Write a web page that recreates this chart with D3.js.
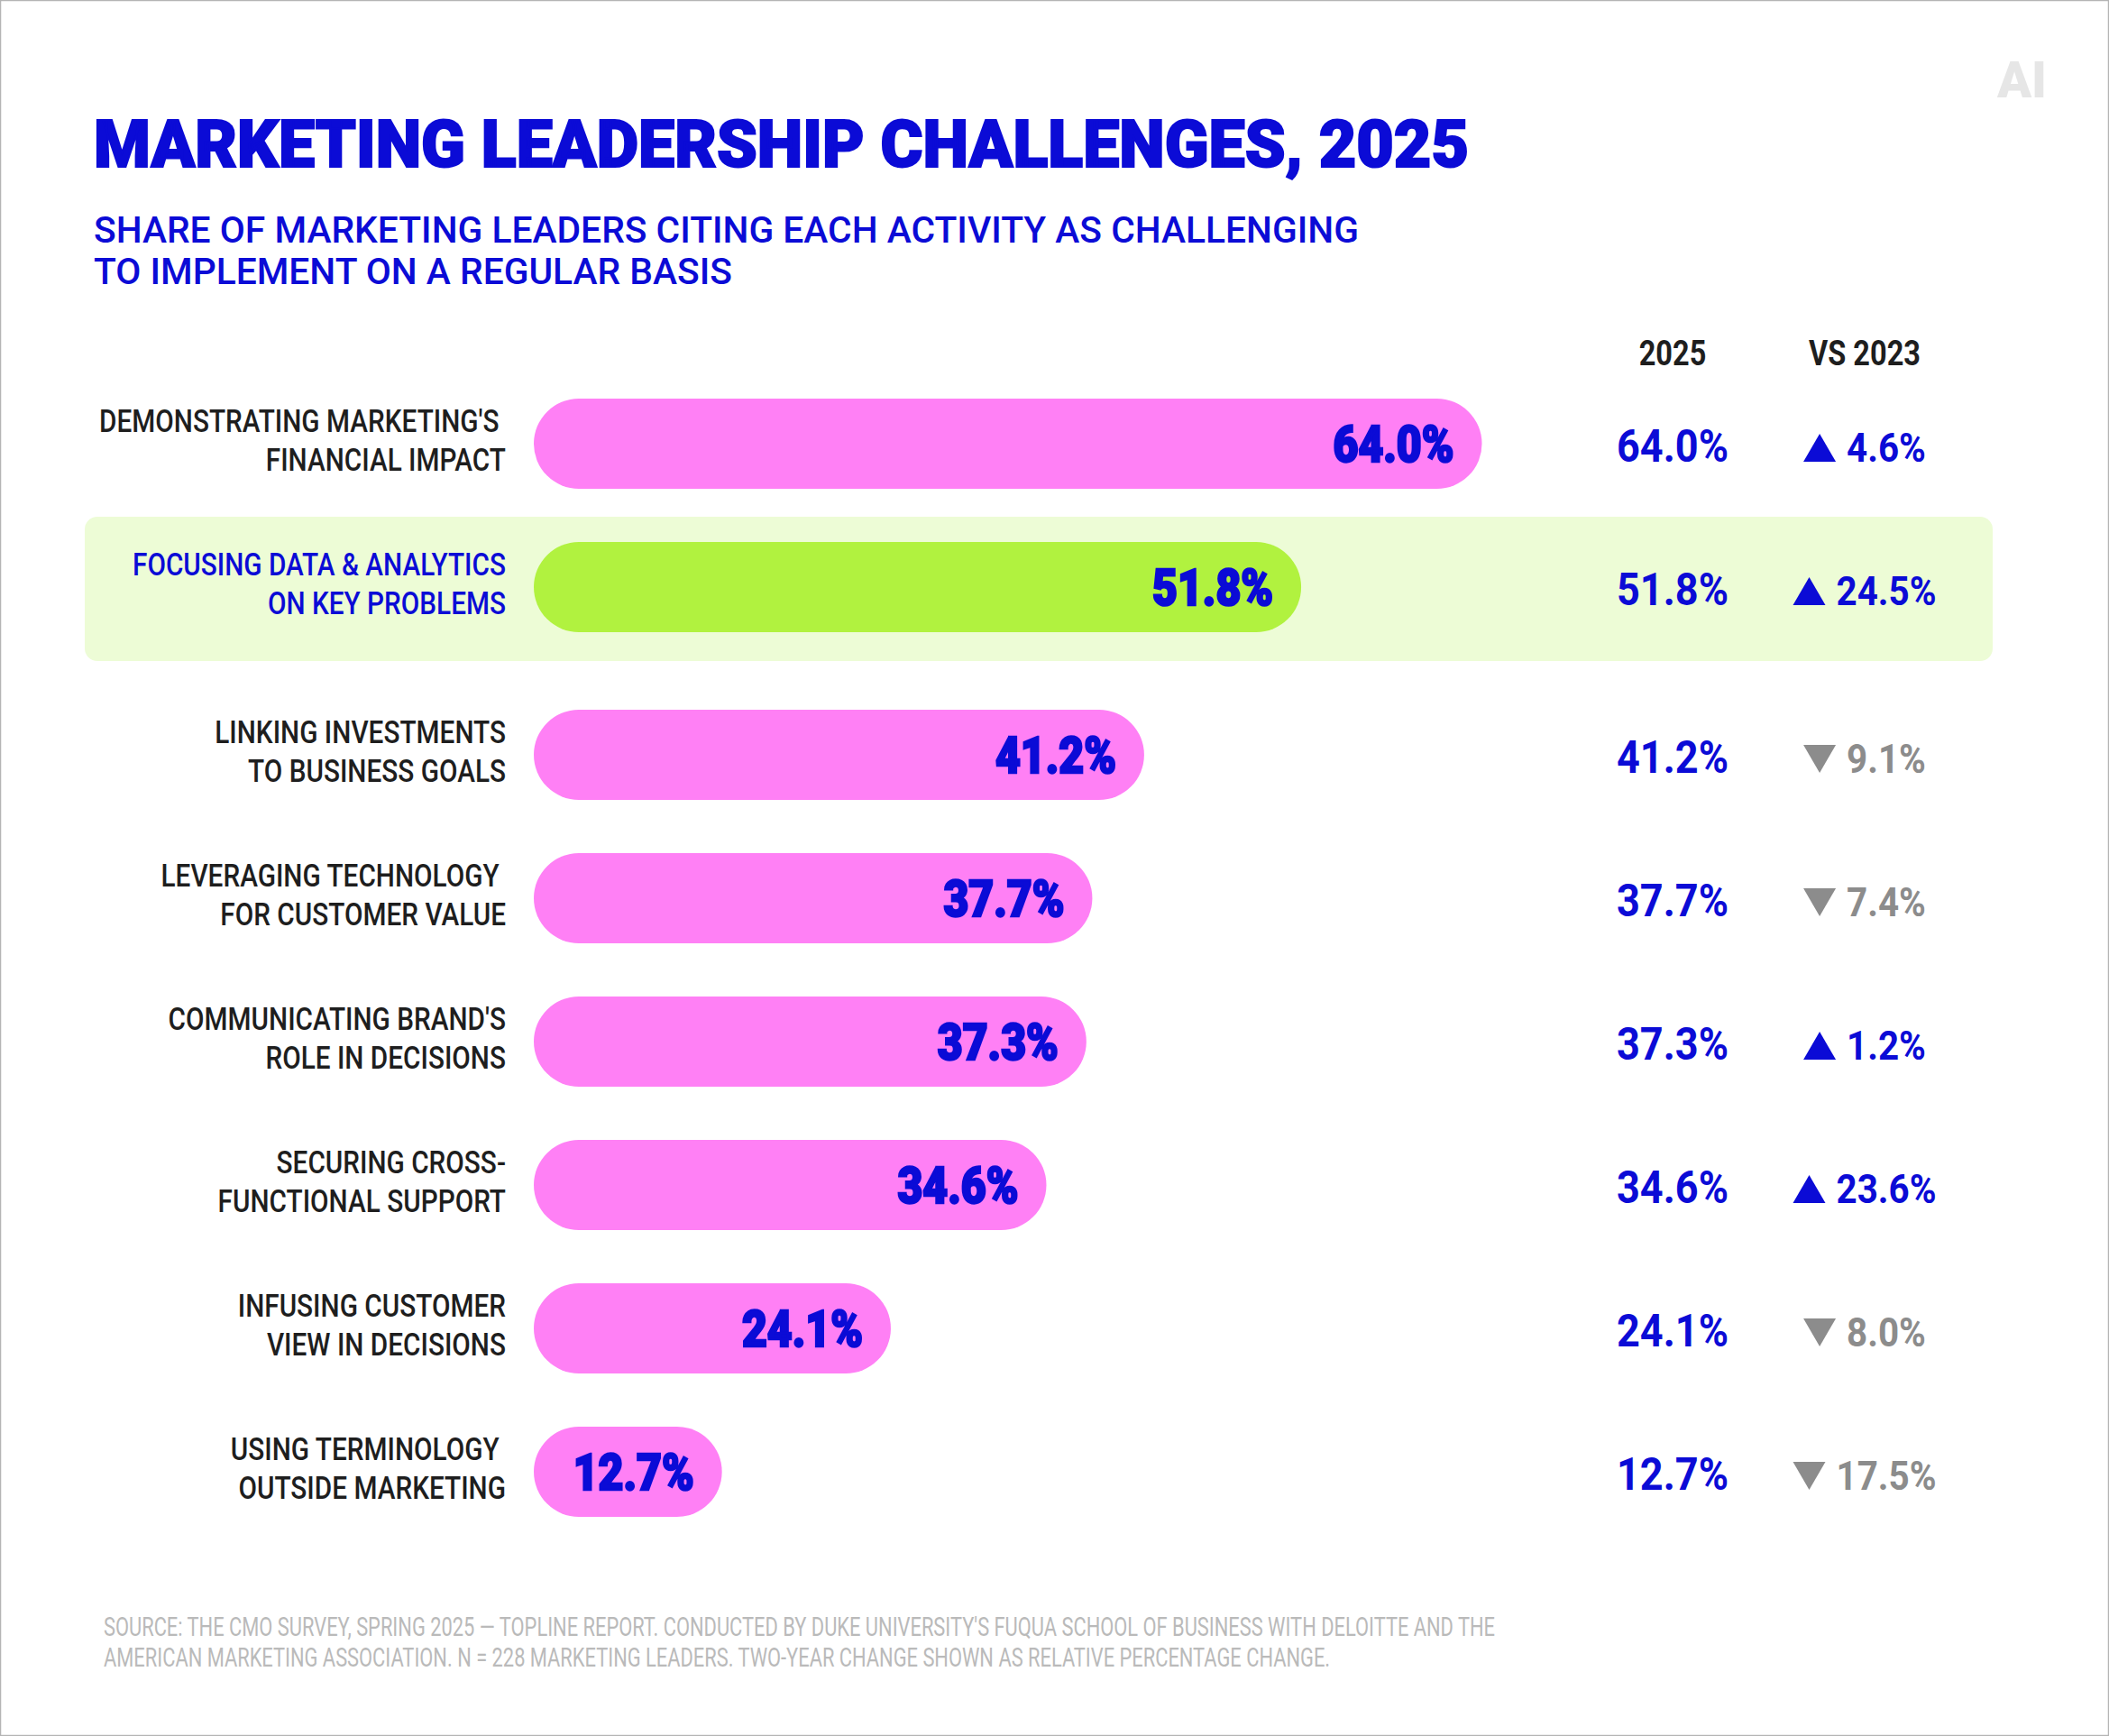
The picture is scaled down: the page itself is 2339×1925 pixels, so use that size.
<!DOCTYPE html>
<html>
<head>
<meta charset="utf-8">
<script src="https://cdn.jsdelivr.net/npm/d3@7"></script>
<style>
  html, body { margin: 0; padding: 0; background: #fff; }
  svg text { white-space: pre; }
</style>
</head>
<body>
<div class="chart"></div>
<script>
// data
var labelsLine1 = ["DEMONSTRATING MARKETING'S ", "FOCUSING DATA & ANALYTICS", "LINKING INVESTMENTS", "LEVERAGING TECHNOLOGY ",
                   "COMMUNICATING BRAND'S", "SECURING CROSS-", "INFUSING CUSTOMER", "USING TERMINOLOGY "];
var labelsLine2 = ["FINANCIAL IMPACT", "ON KEY PROBLEMS", "TO BUSINESS GOALS", "FOR CUSTOMER VALUE",
                   "ROLE IN DECISIONS", "FUNCTIONAL SUPPORT", "VIEW IN DECISIONS", "OUTSIDE MARKETING"];
var share2025 = [64.0, 51.8, 41.2, 37.7, 37.3, 34.6, 24.1, 12.7];
var changeVs2023 = [4.6, 24.5, -9.1, -7.4, 1.2, 23.6, -8.0, -17.5];
var highlightRow = 1;
var columnHeads = ["2025", "VS 2023"];
var title = "MARKETING LEADERSHIP CHALLENGES, 2025";
var subtitle = ["SHARE OF MARKETING LEADERS CITING EACH ACTIVITY AS CHALLENGING", "TO IMPLEMENT ON A REGULAR BASIS"];
var source = ["SOURCE: THE CMO SURVEY, SPRING 2025 \u2014 TOPLINE REPORT. CONDUCTED BY DUKE UNIVERSITY'S FUQUA SCHOOL OF BUSINESS WITH DELOITTE AND THE",
              "AMERICAN MARKETING ASSOCIATION. N = 228 MARKETING LEADERS. TWO-YEAR CHANGE SHOWN AS RELATIVE PERCENTAGE CHANGE."];

var w = 2339, h = 1925;
var blue = "#0b0bd6", pink = "#ff80f5", green = "#b1f23f", hiBg = "#edfcd6", grey = "#8c8c8c";
var font = "Roboto, 'Noto Sans', sans-serif";

var svg = d3.select(".chart").append("svg")
  .attr("width", w).attr("height", h);

svg.append("rect").attr("x", 0.5).attr("y", 0.5).attr("width", w - 1).attr("height", h - 1)
  .attr("fill", "#fff").attr("stroke", "#b4b4b4").attr("stroke-width", 1.5);

// squeeze a text style so its reference string gets the target width
function squeeze(sel, refNode, target) {
  var ratio = target / refNode.getComputedTextLength();
  sel.each(function() {
    var tw = this.getComputedTextLength();
    d3.select(this).attr("textLength", tw * ratio).attr("lengthAdjust", "spacingAndGlyphs");
  });
}

// scales
var n = share2025.length;
var x = d3.scaleLinear().domain([0, 100]).range([592, 2235]);
var band = d3.scaleBand().domain(d3.range(n)).range([412.5, 412.5 + n * 159]);
function rowY(i) { return band(i) + band.bandwidth() / 2 + (i > highlightRow ? 27 : 0); }
var barH = 100;

// header
var t = svg.append("text").attr("x", 104).attr("y", 185)
  .attr("font-family", font).attr("font-weight", 900).attr("font-size", 73)
  .attr("fill", blue).attr("stroke", blue).attr("stroke-width", 2).text(title);
squeeze(t, t.node(), 1525);

var sub = svg.selectAll(".sub").data(subtitle).enter().append("text")
  .attr("class", "sub").attr("x", 104).attr("y", function(d, i) { return 269 + i * 46; })
  .attr("font-family", font).attr("font-weight", 500).attr("font-size", 41)
  .attr("fill", blue).text(function(d) { return d; });
squeeze(sub, sub.nodes()[0], 1403);

svg.append("text").attr("x", 2270).attr("y", 108).attr("text-anchor", "end")
  .attr("font-family", font).attr("font-weight", 900).attr("font-size", 56)
  .attr("fill", "#e6e6e6").text("AI");

// column heads
var colX = [1855, 2068];
var heads = svg.selectAll(".head").data(columnHeads).enter().append("text")
  .attr("class", "head").attr("x", function(d, i) { return colX[i]; }).attr("y", 405)
  .attr("text-anchor", "middle").attr("font-family", font).attr("font-weight", 700)
  .attr("font-size", 38).attr("fill", "#1e1e1e").text(function(d) { return d; });
squeeze(heads, heads.nodes()[1], 124);

// highlight band
svg.append("rect").attr("x", 94).attr("width", 2210 - 94)
  .attr("y", rowY(highlightRow) - 78).attr("height", 160).attr("rx", 14)
  .attr("fill", hiBg);

var rows = svg.selectAll(".row").data(share2025).enter().append("g")
  .attr("class", "row")
  .attr("transform", function(d, i) { return "translate(0," + rowY(i) + ")"; });

// bars
rows.append("rect").attr("x", x(0)).attr("y", -barH / 2).attr("height", barH)
  .attr("width", function(d) { return x(d) - x(0); }).attr("rx", barH / 2)
  .attr("fill", function(d, i) { return i === highlightRow ? green : pink; });

// category labels
var l1 = rows.append("text").attr("x", 561).attr("y", -13).text(function(d, i) { return labelsLine1[i]; });
var l2 = rows.append("text").attr("x", 561).attr("y", 30).text(function(d, i) { return labelsLine2[i]; });
var labs = rows.selectAll("text")
  .attr("text-anchor", "end").attr("font-family", font).attr("font-weight", 500).attr("font-size", 35)
  .attr("fill", function() { return d3.select(this.parentNode).datum() === share2025[highlightRow] ? blue : "#1e1e1e"; });
squeeze(labs, l1.nodes()[1], 414);

// value inside bar
var inBar = rows.append("text").attr("x", function(d) { return x(d) - 31; }).attr("y", 20)
  .attr("text-anchor", "end").attr("font-family", font).attr("font-weight", 900).attr("font-size", 55)
  .attr("fill", blue).attr("stroke", blue).attr("stroke-width", 2.5)
  .text(function(d) { return d.toFixed(1) + "%"; });
squeeze(inBar, inBar.nodes()[0], 134);

// 2025 column
var col = rows.append("text").attr("x", colX[0]).attr("y", 20)
  .attr("text-anchor", "middle").attr("font-family", font).attr("font-weight", 700).attr("font-size", 50)
  .attr("fill", blue).text(function(d) { return d.toFixed(1) + "%"; });
squeeze(col, col.nodes()[0], 124);

// change column
var cy = 20;
var chg = rows.append("text").attr("y", cy)
  .attr("font-family", font).attr("font-weight", 700).attr("font-size", 44)
  .attr("fill", function(d, i) { return changeVs2023[i] >= 0 ? blue : grey; })
  .text(function(d, i) { return Math.abs(changeVs2023[i]).toFixed(1) + "%"; });
squeeze(chg, chg.nodes()[1], 111);

var triW = 36, triH = 31, gap = 12;
chg.each(function(d, i) {
  var tw = +d3.select(this).attr("textLength");
  var left = colX[1] - (triW + gap + tw) / 2;
  d3.select(this).attr("x", left + triW + gap);
  var up = changeVs2023[i] >= 0;
  var p = d3.path();
  if (up) {
    p.moveTo(left, cy); p.lineTo(left + triW, cy); p.lineTo(left + triW / 2, cy - triH);
  } else {
    p.moveTo(left, cy - triH); p.lineTo(left + triW, cy - triH); p.lineTo(left + triW / 2, cy);
  }
  p.closePath();
  d3.select(this.parentNode).append("path").attr("d", p.toString())
    .attr("fill", up ? blue : grey);
});

// source note
var src = svg.selectAll(".src").data(source).enter().append("text")
  .attr("class", "src").attr("x", 115).attr("y", function(d, i) { return 1814 + i * 34; })
  .attr("font-family", font).attr("font-weight", 400).attr("font-size", 29.5)
  .attr("fill", "#bababa").text(function(d) { return d; });
squeeze(src, src.nodes()[0], 1543);
</script>
</body>
</html>
